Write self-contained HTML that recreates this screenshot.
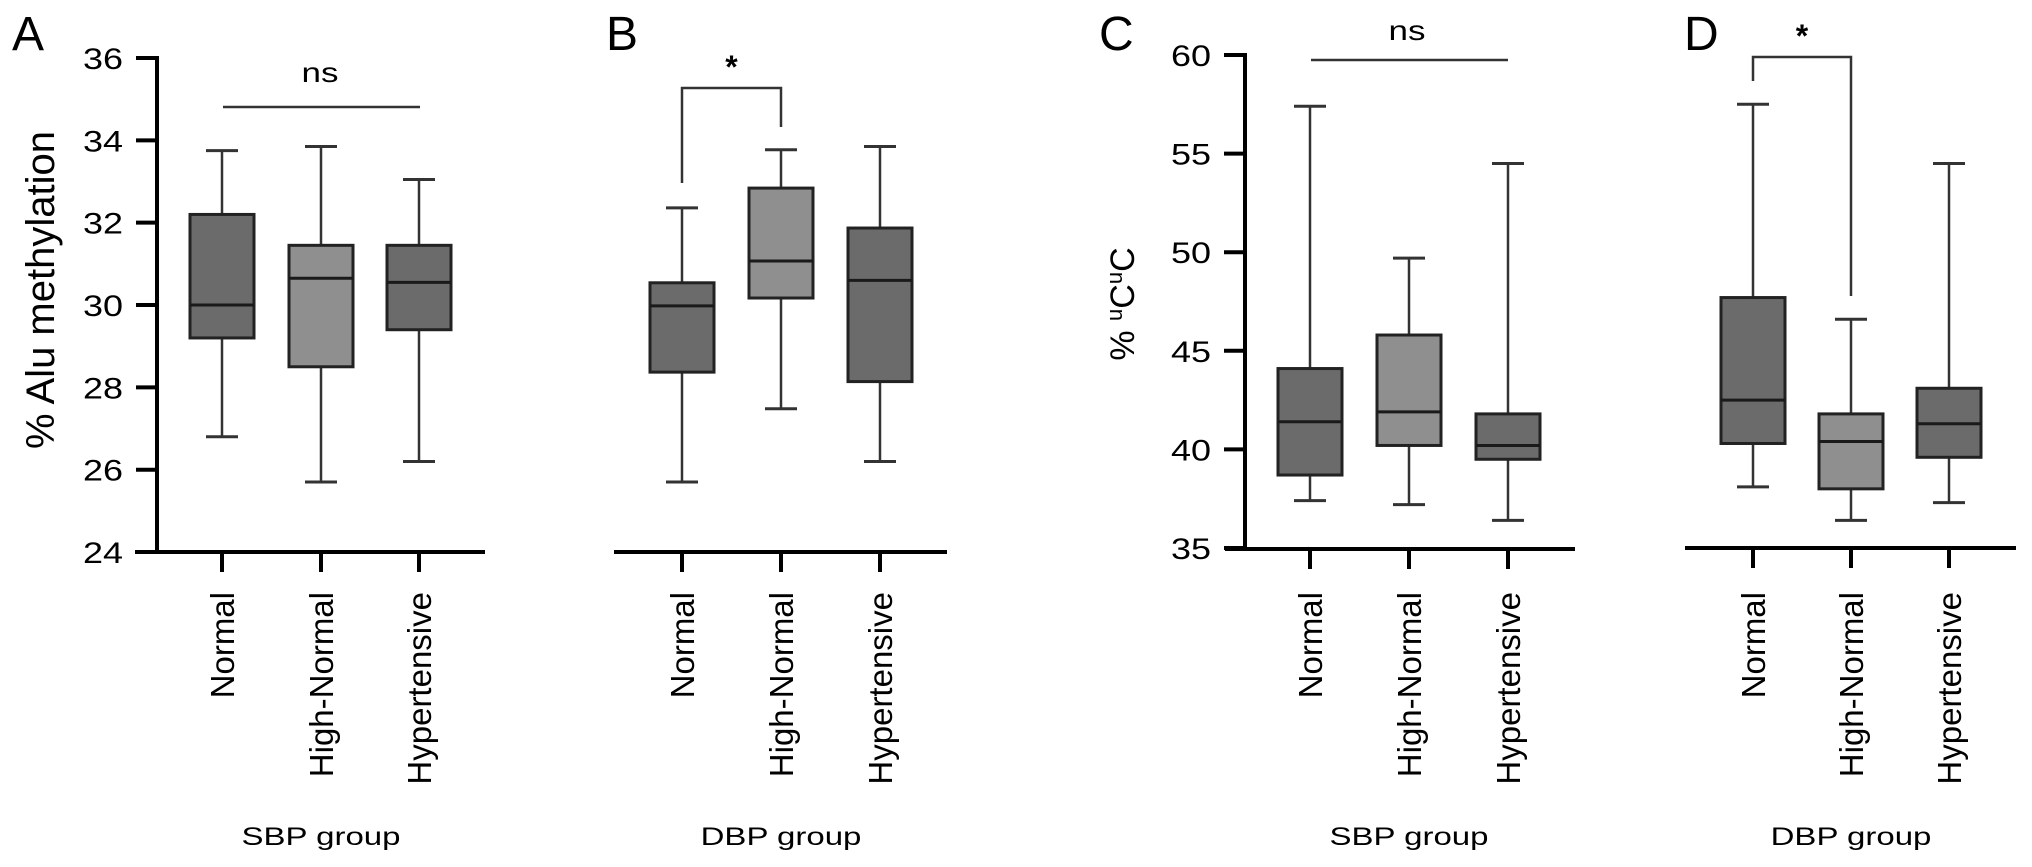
<!DOCTYPE html>
<html><head><meta charset="utf-8"><style>
html,body{margin:0;padding:0;background:#fff;}
svg{display:block;font-family:"Liberation Sans",Arial,sans-serif;}
</style></head><body>
<svg id="chart" width="2032" height="867" viewBox="0 0 2032 867" xmlns="http://www.w3.org/2000/svg"></svg>
<script>
// ---- data ----
const categories = ["Normal", "High-Normal", "Hypertensive"];
// panel A: % Alu methylation by SBP group  [min, q1, median, q3, max]
const alu_sbp_min = [26.8, 25.7, 26.2];
const alu_sbp_q1 = [29.2, 28.5, 29.4];
const alu_sbp_med = [30.0, 30.65, 30.55];
const alu_sbp_q3 = [32.2, 31.45, 31.45];
const alu_sbp_max = [33.75, 33.85, 33.05];
// panel B: % Alu methylation by DBP group
const alu_dbp_min = [25.7, 27.48, 26.2];
const alu_dbp_q1 = [28.37, 30.17, 28.14];
const alu_dbp_med = [29.98, 31.07, 30.6];
const alu_dbp_q3 = [30.54, 32.84, 31.87];
const alu_dbp_max = [32.36, 33.77, 33.85];
// panel C: % uCuC by SBP group
const ucuc_sbp_min = [37.4, 37.2, 36.4];
const ucuc_sbp_q1 = [38.7, 40.2, 39.5];
const ucuc_sbp_med = [41.4, 41.9, 40.2];
const ucuc_sbp_q3 = [44.1, 45.8, 41.8];
const ucuc_sbp_max = [57.4, 49.7, 54.5];
// panel D: % uCuC by DBP group
const ucuc_dbp_min = [38.1, 36.4, 37.3];
const ucuc_dbp_q1 = [40.3, 38.0, 39.6];
const ucuc_dbp_med = [42.5, 40.4, 41.3];
const ucuc_dbp_q3 = [47.7, 41.8, 43.1];
const ucuc_dbp_max = [57.5, 46.6, 54.5];
const aluTicks = [24, 26, 28, 30, 32, 34, 36];
const ucucTicks = [35, 40, 45, 50, 55, 60];

const NS = "http://www.w3.org/2000/svg";
const svg = document.getElementById("chart");
function mk(tag, attrs, parent) {
  const e = document.createElementNS(NS, tag);
  for (const k in attrs) e.setAttribute(k, attrs[k]);
  (parent || svg).appendChild(e);
  return e;
}
function yAlu(v) { return 58 + (36 - v) * 41.17; }
function yUcuc(v) { return 55 + (60 - v) * 19.72; }
const fills = ["#6b6b6b", "#8f8f8f", "#6b6b6b"];

function panel(id, letter, letterX, centers, ys, stats, axisY, axisX0, axisX1, yaxis, ticks, ytitle, groupTitle) {
  const g = mk("g", {});
  
  
  const L = mk("text", {x: letterX, y: 50, "font-size": 48}, g);
  L.textContent = letter;
  
  
  const xa = mk("line", {x1: axisX0, x2: axisX1, y1: axisY, y2: axisY, stroke: "#000", "stroke-width": 4}, g);
  
  
  centers.forEach((cx, i) => {
    const t = mk("line", {x1: cx, x2: cx, y1: axisY, y2: axisY + 20, stroke: "#000", "stroke-width": 4}, g);
    
    
    const lb = mk("text", {transform: `translate(${cx + 12},592) rotate(-90)`, "text-anchor": "end", "font-size": 33}, g);
    lb.textContent = categories[i];
    
    
  });
  const gt = mk("text", {transform: `translate(${centers[1]},845) scale(1.32,1)`, "text-anchor": "middle", "font-size": 25}, g);
  gt.textContent = groupTitle;
  
  
  if (yaxis) {
    const ya = mk("line", {x1: yaxis, x2: yaxis, y1: ys(ticks[ticks.length - 1]) - 2, y2: axisY + 2, stroke: "#000", "stroke-width": 4}, g);
    
    
    ticks.forEach(v => {
      const y = ys(v);
      const tk = mk("line", {x1: yaxis - 21, x2: yaxis, y1: y, y2: y, stroke: "#000", "stroke-width": 4}, g);
      
      
      const tl = mk("text", {transform: `translate(${yaxis - 34},${y + 11}) scale(1.2,1)`, "text-anchor": "end", "font-size": 30}, g);
      tl.textContent = v;
      
      
    });
  }
  if (ytitle) ytitle(g);
  centers.forEach((cx, i) => {
    const bg = mk("g", {}, g);
    
    
    const mn = ys(stats[0][i]), q1 = ys(stats[1][i]), md = ys(stats[2][i]), q3 = ys(stats[3][i]), mx = ys(stats[4][i]);
    mk("line", {x1: cx, x2: cx, y1: mx, y2: q3, stroke: "#333", "stroke-width": 2.5}, bg);
    mk("line", {x1: cx, x2: cx, y1: q1, y2: mn, stroke: "#333", "stroke-width": 2.5}, bg);
    mk("line", {x1: cx - 16, x2: cx + 16, y1: mx, y2: mx, stroke: "#333", "stroke-width": 3}, bg);
    mk("line", {x1: cx - 16, x2: cx + 16, y1: mn, y2: mn, stroke: "#333", "stroke-width": 3}, bg);
    mk("rect", {x: cx - 32, y: q3, width: 64, height: q1 - q3, fill: fills[i], stroke: "#222", "stroke-width": 3}, bg);
    mk("line", {x1: cx - 32, x2: cx + 32, y1: md, y2: md, stroke: "#1a1a1a", "stroke-width": 3}, bg);
  });
  return g;
}

const A = panel("a", "A", 12, [222, 321, 419], yAlu,
  [alu_sbp_min, alu_sbp_q1, alu_sbp_med, alu_sbp_q3, alu_sbp_max], 552, 135, 485, 157, aluTicks,
  g => {
    const t = mk("text", {transform: "translate(54,290) rotate(-90)", "text-anchor": "middle", "font-size": 40}, g);
    t.textContent = "% Alu methylation";
    
    
  }, "SBP group");
const B = panel("b", "B", 606, [682, 781, 880], yAlu,
  [alu_dbp_min, alu_dbp_q1, alu_dbp_med, alu_dbp_q3, alu_dbp_max], 552, 614, 947, null, null, null, "DBP group");
const C = panel("c", "C", 1099, [1310, 1409, 1508], yUcuc,
  [ucuc_sbp_min, ucuc_sbp_q1, ucuc_sbp_med, ucuc_sbp_q3, ucuc_sbp_max], 549, 1225, 1575, 1245, ucucTicks,
  g => {
    const t = mk("text", {transform: "translate(1134,304) rotate(-90)", "text-anchor": "middle", "font-size": 34}, g);
    t.innerHTML = '% <tspan font-size="22" dy="-12">u</tspan><tspan dy="12">C</tspan><tspan font-size="22" dy="-12">u</tspan><tspan dy="12">C</tspan>';
    
    
  }, "SBP group");
const D = panel("d", "D", 1684, [1753, 1851, 1949], yUcuc,
  [ucuc_dbp_min, ucuc_dbp_q1, ucuc_dbp_med, ucuc_dbp_q3, ucuc_dbp_max], 548, 1685, 2016, null, null, null, "DBP group");

function nsBar(x1, x2, y, tx, ty, name) {
  const l = mk("line", {x1: x1, x2: x2, y1: y, y2: y, stroke: "#333", "stroke-width": 2.5});
  
  
  const t = mk("text", {transform: `translate(${tx},${ty}) scale(1.25,1)`, "text-anchor": "middle", "font-size": 28});
  t.textContent = "ns";
  
  
}
nsBar(223, 420, 107, 320, 82, 'sig-a');
nsBar(1311, 1508, 60, 1407, 40, 'sig-c');
function bracket(x1, x2, top, l1, l2, name) {
  const p = mk("path", {d: `M${x1},${l1} V${top} H${x2} V${l2}`, fill: "none", stroke: "#333", "stroke-width": 2.5});
  
  
  const t = mk("text", {x: (x1 + x2) / 2, y: top - 10, "text-anchor": "middle", "font-size": 32, "font-weight": "bold"});
  t.textContent = "*";
  
  
}
bracket(682, 781, 88, 183, 127, 'sig-b');
bracket(1753, 1851, 57, 81, 296, 'sig-d');
</script>
</body></html>
